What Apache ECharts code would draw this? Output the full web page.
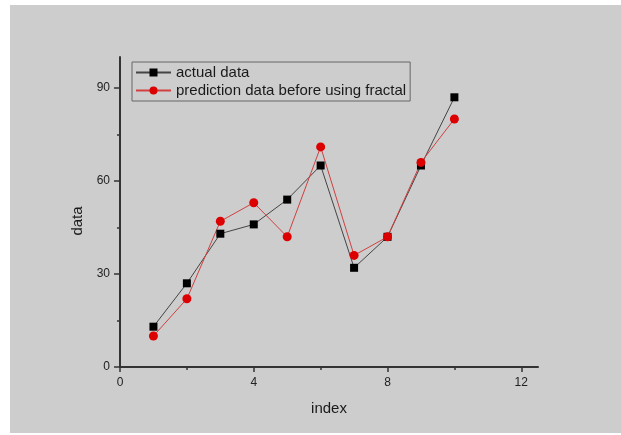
<!DOCTYPE html>
<html>
<head>
<meta charset="utf-8">
<script src="https://cdn.jsdelivr.net/npm/echarts@6/dist/echarts.min.js"></script>
<style>
html,body{margin:0;padding:0;background:#ffffff;width:621px;height:435px;overflow:hidden;}
#chart{position:absolute;left:10px;top:5px;width:611px;height:428px;background:#cdcdcd;}
</style>
</head>
<body>
<div id="chart"></div>
<script>
const indexValues = [1, 2, 3, 4, 5, 6, 7, 8, 9, 10];
const actualData = [13, 27, 43, 46, 54, 65, 32, 42, 65, 87];
const predictionData = [10, 22, 47, 53, 42, 71, 36, 42, 66, 80];
const xTickLabels = [0, 4, 8, 12];
const xMinorTicks = [2, 6, 10];
const yTickLabels = [0, 30, 60, 90];
const yMinorTicks = [15, 45, 75];
const seriesNames = ['actual data', 'prediction data before using fractal'];

const chart = echarts.init(document.getElementById('chart'), null, {renderer: 'canvas'});
const font = 'Liberation Sans, Arial, sans-serif';
const axisColor = '#333333';

function pairs(xs, ys) { return xs.map((x, i) => [x, ys[i]]); }

const option = {
  backgroundColor: '#cdcdcd',
  animation: false,
  grid: {left: 110, top: 52, right: 83, bottom: 66},
  legend: {
    orient: 'vertical',
    left: 122, top: 57,
    padding: [3, 4, 3, 3],
    borderColor: '#666666', borderWidth: 1,
    itemWidth: 35, itemHeight: 10, itemGap: 3,
    textStyle: {fontFamily: font, fontSize: 15, color: '#1a1a1a'},
    data: seriesNames
  },
  xAxis: [
    {
      type: 'value', min: 0, max: 12.5, position: 'bottom',
      name: 'index', nameLocation: 'middle', nameGap: 34,
      nameTextStyle: {fontFamily: font, fontSize: 15, color: '#1a1a1a'},
      axisLine: {show: true, lineStyle: {color: axisColor, width: 2}},
      axisTick: {show: true, length: 5, inside: false, customValues: xTickLabels, lineStyle: {color: axisColor, width: 1.5}},
      axisLabel: {customValues: xTickLabels, margin: 10, fontFamily: font, fontSize: 12, color: '#222222'},
      splitLine: {show: false}
    },
    {
      type: 'value', min: 0, max: 12.5, position: 'bottom', offset: 0,
      axisLine: {show: false},
      axisTick: {show: true, length: 3, customValues: xMinorTicks, lineStyle: {color: axisColor, width: 1.5}},
      axisLabel: {show: false},
      splitLine: {show: false}
    }
  ],
  yAxis: [
    {
      type: 'value', min: 0, max: 100, position: 'left',
      name: 'data', nameLocation: 'middle', nameGap: 35,
      nameTextStyle: {fontFamily: font, fontSize: 15, color: '#1a1a1a', padding: [0, 18, 0, 0]},
      axisLine: {show: true, lineStyle: {color: axisColor, width: 2}},
      axisTick: {show: true, length: 6, customValues: yTickLabels, lineStyle: {color: axisColor, width: 1.5}},
      axisLabel: {customValues: yTickLabels, margin: 10, fontFamily: font, fontSize: 12, color: '#222222'},
      splitLine: {show: false}
    },
    {
      type: 'value', min: 0, max: 100, position: 'left', offset: 0,
      axisLine: {show: false},
      axisTick: {show: true, length: 3, customValues: yMinorTicks, lineStyle: {color: axisColor, width: 1.5}},
      axisLabel: {show: false},
      splitLine: {show: false}
    }
  ],
  series: [
    {
      name: seriesNames[0], type: 'line', xAxisIndex: 0, yAxisIndex: 0,
      data: pairs(indexValues, actualData),
      symbol: 'rect', symbolSize: 8,
      itemStyle: {color: '#000000'},
      lineStyle: {color: '#444444', width: 1}
    },
    {
      name: seriesNames[1], type: 'line', xAxisIndex: 0, yAxisIndex: 0,
      data: pairs(indexValues, predictionData),
      symbol: 'circle', symbolSize: 9,
      itemStyle: {color: '#dd0000'},
      lineStyle: {color: '#d04040', width: 1}
    }
  ]
};
chart.setOption(option);
</script>
</body>
</html>
